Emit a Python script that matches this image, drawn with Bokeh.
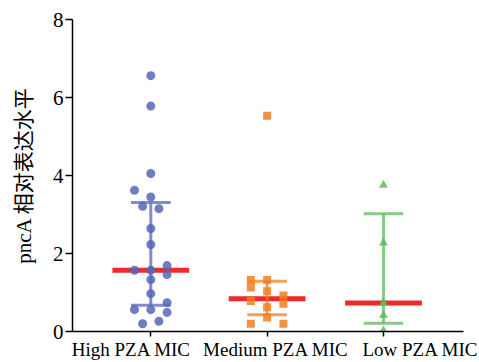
from bokeh.plotting import figure
from bokeh.models import FixedTicker, LinearAxis, Range1d, ColumnDataSource
from bokeh.embed import file_html
from bokeh.resources import INLINE

# ---- data ----
groups = ["High PZA MIC", "Medium PZA MIC", "Low PZA MIC"]
group_pos = [1, 2, 3]
y_ticks = [0, 2, 4, 6, 8]

high_vals = [6.56, 5.78, 4.05, 3.62, 3.45, 3.21, 3.15, 2.64, 2.23, 1.57, 1.57,
             1.69, 1.46, 1.33, 0.97, 0.74, 0.56, 0.56, 0.49, 0.20, 0.26]
high_jit = [0, 0, 0, -0.14, 0, -0.07, 0.07, 0, 0, -0.14, 0,
            0.14, 0.14, 0, 0, 0.14, -0.14, 0, 0.14, -0.07, 0.07]

med_vals = [5.53, 1.32, 1.13, 0.78, 0.20, 1.32, 1.03, 0.62, 0.36, 0.92, 0.71, 0.20]
med_jit = [0, -0.14, -0.14, -0.14, -0.14, 0, 0, 0, 0, 0.14, 0.14, 0.14]

low_vals = [3.75, 2.27, 0.73, 0.41, 0.02]
low_jit = [0, 0, 0, 0, 0]

medians = [1.57, 0.84, 0.73]
err_low = [0.67, 0.43, 0.21]
err_high = [3.31, 1.29, 3.02]

colors = ["#5567B5", "#F47E20", "#5CBB5C"]
markers = ["circle", "square", "triangle"]

CAP = 0.17
MED = 0.33

p = figure(width=479, height=362, output_backend="svg", toolbar_location=None,
           x_range=Range1d(0.327, 3.688), y_range=Range1d(0, 8),
           min_border_left=72, min_border_right=16, min_border_top=19, min_border_bottom=0)
p.outline_line_color = None
p.xgrid.visible = False
p.ygrid.visible = False
p.background_fill_color = "white"
p.border_fill_color = "white"

# medians (red)
p.segment(x0=[g - MED for g in group_pos], x1=[g + MED for g in group_pos],
          y0=medians, y1=medians, line_color="#EE2A2A", line_width=5)

# error bars
for g, lo, hi, c in zip(group_pos, err_low, err_high, colors):
    p.segment(x0=[g, g - CAP, g - CAP], x1=[g, g + CAP, g + CAP],
              y0=[lo, hi, lo], y1=[hi, hi, lo],
              line_color=c, line_width=3, line_alpha=0.75)

# points
for g, vals, jit, c, m in zip(group_pos, [high_vals, med_vals, low_vals],
                              [high_jit, med_jit, low_jit], colors, markers):
    src = ColumnDataSource(dict(x=[g + j for j in jit], y=vals))
    p.scatter("x", "y", source=src, marker=m, size=9 if m != "square" else 8,
              fill_color=c, line_color=None, fill_alpha=0.85)

serif = "'Liberation Serif', 'Noto Sans CJK SC'"

# y axis
ya = p.yaxis[0]
ya.ticker = FixedTicker(ticks=y_ticks)
ya.minor_tick_line_color = None
ya.major_tick_in = 0
ya.major_tick_out = 7
ya.major_tick_line_width = 1.5
ya.axis_line_width = 1.5
ya.axis_line_color = "black"
ya.major_tick_line_color = "black"
ya.major_label_text_font = serif
ya.major_label_text_font_size = "21px"
ya.major_label_text_color = "black"
ya.major_label_standoff = 2
ya.axis_label = "pncA 相对表达水平"
ya.axis_label_text_font = serif
ya.axis_label_text_font_size = "21px"
ya.axis_label_text_font_style = "normal"
ya.axis_label_text_color = "black"
ya.axis_label_standoff = 14

# x axis: ticks only
xa = p.xaxis[0]
xa.ticker = FixedTicker(ticks=group_pos)
xa.minor_tick_line_color = None
xa.major_tick_in = 0
xa.major_tick_out = 5
xa.major_tick_line_width = 1.5
xa.axis_line_width = 1.5
xa.axis_line_color = "black"
xa.major_tick_line_color = "black"
xa.major_label_overrides = {g: "" for g in group_pos}
xa.major_label_standoff = 0
xa.major_label_text_font_size = "0px"

# x labels on their own range
p.extra_x_ranges = {"lab": Range1d(0.592, 3.298)}
la = LinearAxis(x_range_name="lab")
la.ticker = FixedTicker(ticks=group_pos)
la.major_label_overrides = {g: t for g, t in zip(group_pos, groups)}
la.axis_line_color = None
la.major_tick_line_color = None
la.minor_tick_line_color = None
la.major_tick_out = 0
la.major_tick_in = 0
la.major_label_standoff = 2
la.major_label_text_font = serif
la.major_label_text_font_size = "19px"
la.major_label_text_color = "black"
p.add_layout(la, "below")

open("out.html", "w").write(file_html(p, INLINE))
